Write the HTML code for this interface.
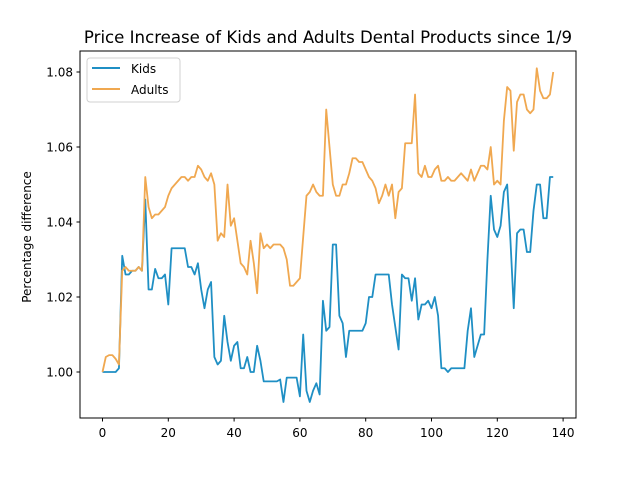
<!DOCTYPE html>
<html><head><meta charset="utf-8"><style>
body{margin:0;background:#fff;}
svg text{font-family:"DejaVu Sans","Liberation Sans",sans-serif;fill:#000;}
</style></head><body>
<svg id="chart" width="640" height="472">
<rect x="0" y="0" width="640" height="472" fill="#fff"/>
<text x="328" y="43" font-size="16.6" text-anchor="middle">Price Increase of Kids and Adults Dental Products since 1/9</text>
<text transform="translate(31,237) rotate(-90)" font-size="12" text-anchor="middle">Percentage difference</text>
<g id="grid"></g>
<g id="series"></g>
<rect x="80" y="51" width="496" height="367" fill="none" stroke="#000" stroke-width="1"/>
<g>
<rect x="87" y="58" width="93" height="44" rx="3" fill="#fff" stroke="#ccc" opacity="0.9"/>
<g><line x1="92" y1="68" x2="120" y2="68" stroke="#1f8fc4" stroke-width="2"/><text x="131" y="73" font-size="12">Kids</text></g>
<g><line x1="92" y1="89" x2="120" y2="89" stroke="#f0a850" stroke-width="2"/><text x="131" y="94" font-size="12">Adults</text></g>
</g>
</svg>
<script>
const kids=[1.000,1.000,1.000,1.000,1.000,1.001,1.031,1.026,1.026,1.027,1.027,1.028,1.027,1.046,1.022,1.022,1.0275,1.025,1.025,1.026,1.018,1.033,1.033,1.033,1.033,1.033,1.028,1.028,1.026,1.029,1.022,1.017,1.022,1.024,1.004,1.002,1.003,1.015,1.008,1.003,1.007,1.008,1.001,1.001,1.004,1.000,1.000,1.007,1.003,0.9975,0.9975,0.9975,0.9975,0.9975,0.998,0.992,0.9985,0.9985,0.9985,0.9985,0.9935,1.010,0.995,0.992,0.995,0.997,0.994,1.019,1.011,1.012,1.034,1.034,1.015,1.013,1.004,1.011,1.011,1.011,1.011,1.011,1.013,1.020,1.020,1.026,1.026,1.026,1.026,1.026,1.018,1.012,1.006,1.026,1.025,1.025,1.019,1.025,1.014,1.018,1.018,1.019,1.017,1.020,1.015,1.001,1.001,1.000,1.001,1.001,1.001,1.001,1.001,1.011,1.017,1.004,1.007,1.010,1.010,1.030,1.047,1.038,1.036,1.039,1.048,1.050,1.035,1.017,1.037,1.038,1.038,1.032,1.032,1.043,1.050,1.050,1.041,1.041,1.052,1.052];
const adults=[1.000,1.004,1.0045,1.0045,1.0035,1.002,1.027,1.028,1.027,1.027,1.027,1.028,1.027,1.052,1.044,1.041,1.042,1.042,1.043,1.044,1.047,1.049,1.050,1.051,1.052,1.052,1.051,1.052,1.052,1.055,1.054,1.052,1.051,1.053,1.050,1.035,1.037,1.036,1.050,1.039,1.041,1.035,1.029,1.028,1.026,1.035,1.029,1.021,1.037,1.033,1.034,1.033,1.034,1.034,1.034,1.033,1.030,1.023,1.023,1.024,1.025,1.036,1.047,1.048,1.050,1.048,1.047,1.047,1.070,1.060,1.050,1.047,1.047,1.050,1.050,1.053,1.057,1.057,1.056,1.056,1.054,1.052,1.051,1.049,1.045,1.047,1.050,1.047,1.050,1.041,1.048,1.049,1.061,1.061,1.061,1.074,1.053,1.052,1.055,1.052,1.052,1.054,1.055,1.051,1.051,1.052,1.051,1.051,1.052,1.053,1.052,1.051,1.054,1.051,1.053,1.055,1.055,1.054,1.060,1.050,1.051,1.050,1.067,1.076,1.075,1.059,1.072,1.074,1.074,1.070,1.069,1.070,1.081,1.075,1.073,1.073,1.074,1.080];
const xTicks=[0,20,40,60,80,100,120,140];
const yTicks=[1.00,1.02,1.04,1.06,1.08];
const NS="http://www.w3.org/2000/svg";
function xs(i){return 102.5+i*3.29;}
function ys(v){return 372-(v-1.0)*3750;}
const grid=document.getElementById('grid');
xTicks.forEach(t=>{
  const l=document.createElementNS(NS,'line');
  l.setAttribute('x1',xs(t));l.setAttribute('x2',xs(t));l.setAttribute('y1',418);l.setAttribute('y2',421.5);l.setAttribute('stroke','#000');
  
  
  grid.appendChild(l);
  const tx=document.createElementNS(NS,'text');
  tx.setAttribute('x',xs(t));tx.setAttribute('y',437);tx.setAttribute('font-size','12');tx.setAttribute('text-anchor','middle');
  tx.textContent=t;
  
  
  grid.appendChild(tx);
});
yTicks.forEach(t=>{
  const l=document.createElementNS(NS,'line');
  l.setAttribute('x1',76.5);l.setAttribute('x2',80);l.setAttribute('y1',ys(t));l.setAttribute('y2',ys(t));l.setAttribute('stroke','#000');
  
  
  grid.appendChild(l);
  const tx=document.createElementNS(NS,'text');
  tx.setAttribute('x',73);tx.setAttribute('y',ys(t)+4.5);tx.setAttribute('font-size','12');tx.setAttribute('text-anchor','end');
  tx.textContent=t.toFixed(2);
  
  
  grid.appendChild(tx);
});
const series=document.getElementById('series');
function draw(arr,color,name){
  const p=document.createElementNS(NS,'polyline');
  p.setAttribute('points',arr.map((v,i)=>xs(i).toFixed(2)+','+ys(v).toFixed(2)).join(' '));
  p.setAttribute('fill','none');p.setAttribute('stroke',color);p.setAttribute('stroke-width','1.8');p.setAttribute('stroke-linejoin','round');
  
  
  series.appendChild(p);
}
draw(kids,'#1f8fc4','kids-line');
draw(adults,'#f0a850','adults-line');
</script>
</body></html>
